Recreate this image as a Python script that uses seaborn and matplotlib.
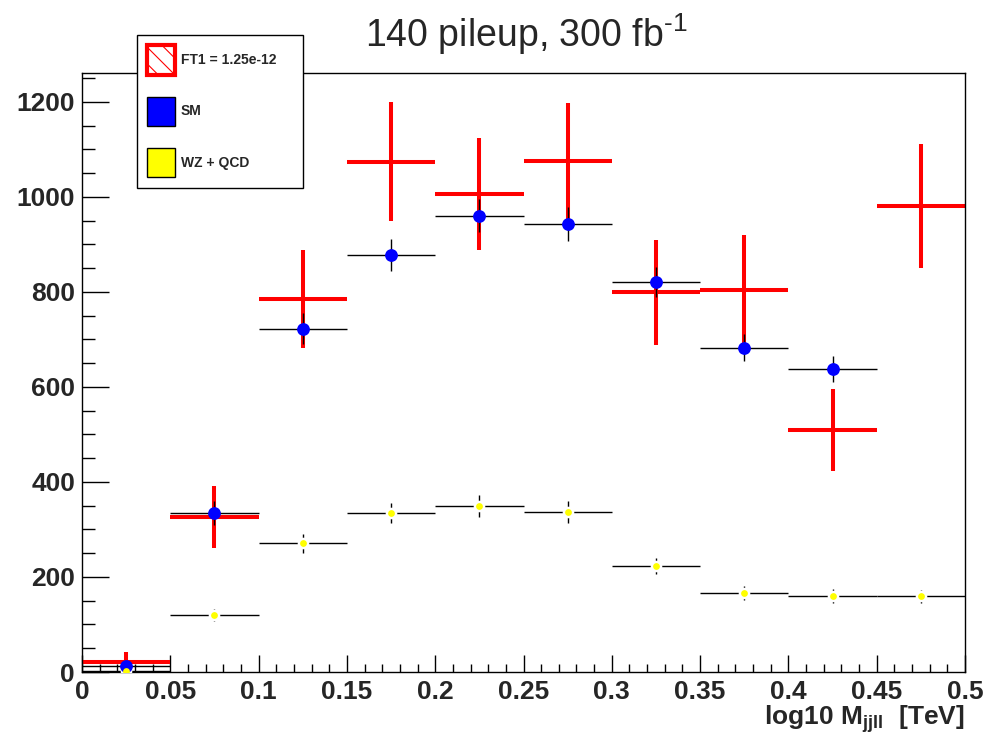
import numpy as np
import pandas as pd
import matplotlib
matplotlib.use("Agg")
import matplotlib.pyplot as plt
import seaborn as sns
from matplotlib.patches import Patch
from matplotlib.ticker import MultipleLocator, FormatStrFormatter

# bins in log10 M_jjll [TeV]
bin_edges = np.arange(0.0, 0.5001, 0.05)
bin_centers = 0.5 * (bin_edges[:-1] + bin_edges[1:])
half_width = 0.025

# FT1 = 1.25e-12 (red crosses)
ft1 = [22, 326, 785, 1074, 1007, 1076, 799, 804, 509, 981]
ft1_err = [20, 66, 103, 125, 118, 122, 110, 117, 86, 130]

# SM (blue points), no entry in the last bin
sm = [13, 335, 723, 878, 961, 943, 821, 683, 638, np.nan]
sm_err = [8, 25, 32, 33, 35, 35, 31, 29, 28, np.nan]

# WZ + QCD (yellow points)
wz = [3, 120, 271, 334, 349, 336, 224, 167, 160, 159]
wz_err = [2, 12, 20, 21, 23, 23, 17, 15, 14, 14]

legend_labels = ["FT1 = 1.25e-12", "SM", "WZ + QCD"]

sns.set_style("ticks")
plt.rcParams['font.family'] = ['Liberation Sans', 'DejaVu Sans']
plt.rcParams['mathtext.fontset'] = 'custom'
plt.rcParams['mathtext.rm'] = 'Liberation Sans'
plt.rcParams['mathtext.bf'] = 'Liberation Sans:bold'
plt.rcParams['hatch.color'] = 'red'
plt.rcParams['hatch.linewidth'] = 0.8

df = pd.DataFrame({"x": bin_centers, "ft1": ft1, "sm": sm, "wz": wz})

fig = plt.figure(figsize=(9.87, 7.42), dpi=100)
ax = fig.add_axes([82 / 987, 1 - 672 / 742, (965 - 82) / 987, (672 - 73) / 742])

# FT1 crosses
ax.errorbar(df["x"], df["ft1"], xerr=half_width, yerr=ft1_err, fmt='none',
            ecolor='red', elinewidth=2.9, capsize=0, zorder=2)

# SM and WZ black bars
ax.errorbar(df["x"], df["sm"], xerr=half_width, yerr=sm_err, fmt='none',
            ecolor='black', elinewidth=1.0, capsize=0, zorder=3)
ax.errorbar(df["x"], df["wz"], xerr=half_width, yerr=wz_err, fmt='none',
            ecolor='black', elinewidth=1.0, capsize=0, zorder=3)

# white gap around the small yellow markers
sns.scatterplot(data=df, x="x", y="wz", color='white', s=70, linewidth=0,
                ax=ax, zorder=4, legend=False)
sns.scatterplot(data=df, x="x", y="sm", color='blue', s=85, linewidth=0,
                ax=ax, zorder=5, legend=False)
sns.scatterplot(data=df, x="x", y="wz", color='yellow', s=24, linewidth=0,
                ax=ax, zorder=6, legend=False)

ax.set_xlim(0, 0.5)
ax.set_ylim(0, 1261)

ax.xaxis.set_major_locator(MultipleLocator(0.05))
ax.xaxis.set_minor_locator(MultipleLocator(0.01))
ax.xaxis.set_major_formatter(FormatStrFormatter('%g'))
ax.yaxis.set_major_locator(MultipleLocator(200))
ax.yaxis.set_minor_locator(MultipleLocator(50))

ax.tick_params(which='both', direction='in', top=False, right=False, width=1.0, color='black')
ax.tick_params(axis='x', which='major', length=12.5, pad=6)
ax.tick_params(axis='x', which='minor', length=6)
ax.tick_params(axis='y', which='major', length=19.5, pad=5)
ax.tick_params(axis='y', which='minor', length=9.6)
for lab in ax.get_xticklabels() + ax.get_yticklabels():
    lab.set_fontsize(19)
    lab.set_fontweight('bold')

for sp in ax.spines.values():
    sp.set_linewidth(1.0)
    sp.set_color('black')

ax.set_ylabel('')
ax.set_xlabel(r'log10 M$_{\mathbf{jjll}}$  [TeV]', fontsize=19, fontweight='bold',
              ha='right', va='top')
ax.xaxis.set_label_coords(1.0, -0.052)

fig.text(526 / 987, 1 - 47 / 742, r'140 pileup, 300 fb$^{\text{-1}}$', fontsize=27,
         ha='center', va='baseline')

handles = [
    Patch(facecolor='white', edgecolor='red', hatch='\\\\', linewidth=3),
    Patch(facecolor='blue', edgecolor='black', linewidth=1),
    Patch(facecolor='yellow', edgecolor='black', linewidth=1),
]
leg = fig.legend(handles, legend_labels, loc='upper left',
                 bbox_to_anchor=(137 / 987, 1 - 35 / 742, (303 - 137) / 987, 0),
                 mode='expand', prop={'weight': 'bold', 'size': 10},
                 frameon=True, fancybox=False, edgecolor='black', framealpha=1,
                 handlelength=2.0, handleheight=2.9, labelspacing=1.55,
                 handletextpad=0.4, borderpad=0.75, borderaxespad=0)
leg.get_frame().set_linewidth(1.0)
leg.set_zorder(10)

fig.savefig("out.png", dpi=100, facecolor='white')
